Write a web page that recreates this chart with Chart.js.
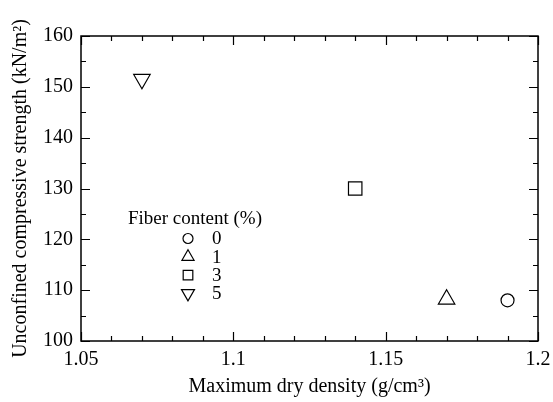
<!DOCTYPE html>
<html>
<head>
<meta charset="utf-8">
<script src="https://cdn.jsdelivr.net/npm/chart.js@4"></script>
<style>
  html, body { margin: 0; padding: 0; background: #fff; }
  #wrap { width: 553px; height: 402px; }
</style>
</head>
<body>
<div id="wrap"><canvas id="uscChart"></canvas></div>
<script>
// Fiber content groups and measured values
const fiberLabels = ['0', '1', '3', '5'];
const maxDryDensity = [1.19, 1.17, 1.14, 1.07];
const ucs = [108, 108.2, 130, 151.5];
const markerStyles = ['circle', 'triangle', 'rect', 'triangle'];
const markerRotation = [0, 0, 0, 180];
const markerRadius = [6.5, 9.5, 9.5, 9.5];
const legendRadius = [5, 7, 6.8, 7.5];

const xTicks = [1.05, 1.1, 1.15, 1.2];
const yTicks = [100, 110, 120, 130, 140, 150, 160];

const serif = 'Liberation Serif';

// ticks pointing inward on all four sides, plus the frame
const frameTicks = {
    id: 'frameTicks',
    afterDraw(chart) {
        const { ctx, chartArea: a, scales: { x, y } } = chart;
        ctx.save();
        ctx.strokeStyle = '#000';
        ctx.lineWidth = 1.5;
        ctx.strokeRect(a.left, a.top, a.right - a.left, a.bottom - a.top);
        ctx.lineWidth = 1.2;
        ctx.beginPath();
        for (let v = 1.05; v <= 1.2001; v += 0.01) {
            const major = xTicks.some(t => Math.abs(t - v) < 1e-6);
            const len = major ? 9 : 5;
            const px = Math.round(x.getPixelForValue(v)) + 0.5;
            ctx.moveTo(px, a.bottom); ctx.lineTo(px, a.bottom - len);
            ctx.moveTo(px, a.top); ctx.lineTo(px, a.top + len);
        }
        for (let v = 100; v <= 160; v += 5) {
            const major = v % 10 === 0;
            const len = major ? 9 : 5;
            const py = Math.round(y.getPixelForValue(v)) + 0.5;
            ctx.moveTo(a.left, py); ctx.lineTo(a.left + len, py);
            ctx.moveTo(a.right, py); ctx.lineTo(a.right - len, py);
        }
        ctx.stroke();
        ctx.restore();
    }
};

// legend drawn inside the plot area
const insideLegend = {
    id: 'insideLegend',
    afterDraw(chart) {
        const ctx = chart.ctx;
        ctx.save();
        ctx.fillStyle = '#000';
        ctx.font = '19px "' + serif + '"';
        ctx.textBaseline = 'middle';
        ctx.textAlign = 'left';
        ctx.fillText('Fiber content (%)', 128, 219);
        chart.data.datasets.forEach((ds, i) => {
            const yy = 238.5 + i * 18.3;
            ctx.lineWidth = 1.2;
            ctx.strokeStyle = '#000';
            ctx.fillStyle = 'rgba(255,255,255,0)';
            Chart.helpers.drawPoint(ctx, {
                pointStyle: markerStyles[i],
                rotation: markerRotation[i],
                radius: legendRadius[i],
                borderWidth: 1.2
            }, 188, yy);
            ctx.fillStyle = '#000';
            ctx.fillText(fiberLabels[i], 212, yy + 1);
        });
        ctx.restore();
    }
};

const datasets = fiberLabels.map((lab, i) => ({
    label: lab,
    data: [{ x: maxDryDensity[i], y: ucs[i] }],
    pointStyle: markerStyles[i],
    rotation: markerRotation[i],
    radius: markerRadius[i],
    borderColor: '#000',
    backgroundColor: 'rgba(255,255,255,0)',
    borderWidth: 1.2
}));

new Chart(document.getElementById('uscChart'), {
    type: 'scatter',
    data: { datasets: datasets },
    options: {
        responsive: true,
        maintainAspectRatio: false,
        animation: false,
        layout: { padding: { left: 0, right: 15, top: 36, bottom: 0 } },
        plugins: {
            legend: { display: false },
            tooltip: { enabled: false }
        },
        scales: {
            x: {
                type: 'linear',
                min: 1.05,
                max: 1.2,
                afterBuildTicks: s => { s.ticks = xTicks.map(v => ({ value: v })); },
                afterFit: s => { s.height = 61; s.paddingLeft = 0; s.paddingRight = 0; },
                grid: { display: false, drawTicks: false },
                border: { display: false },
                ticks: {
                    color: '#000',
                    padding: 7,
                    font: { family: serif, size: 20 },
                    maxRotation: 0,
                    callback: v => String(v)
                },
                title: {
                    display: true,
                    text: 'Maximum dry density (g/cm³)',
                    color: '#000',
                    font: { family: serif, size: 20 },
                    padding: { top: 2, bottom: 3 }
                }
            },
            y: {
                type: 'linear',
                min: 100,
                max: 160,
                afterBuildTicks: s => { s.ticks = yTicks.map(v => ({ value: v })); },
                afterFit: s => { s.width = 81; },
                grid: { display: false, drawTicks: false },
                border: { display: false },
                ticks: {
                    color: '#000',
                    padding: 8,
                    font: { family: serif, size: 20 }
                },
                title: {
                    display: true,
                    text: 'Unconfined compressive strength (kN/m²)',
                    color: '#000',
                    font: { family: serif, size: 20 },
                    padding: { top: 9, bottom: 2 }
                }
            }
        }
    },
    plugins: [frameTicks, insideLegend]
});
</script>
</body>
</html>
